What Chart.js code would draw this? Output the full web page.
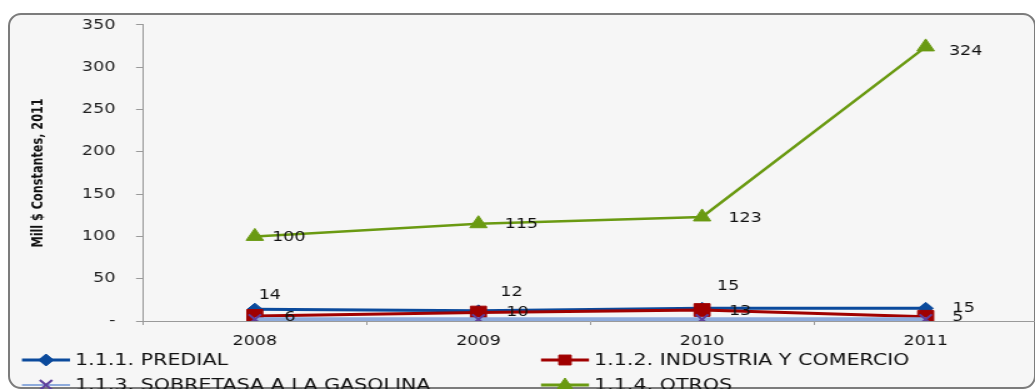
<!DOCTYPE html>
<html>
<head>
<meta charset="utf-8">
<script src="https://cdn.jsdelivr.net/npm/chart.js@4/dist/chart.umd.min.js"></script>
<style>
  html, body { margin: 0; padding: 0; background: #fff; overflow: hidden; }
  #panel {
    position: absolute; left: 8px; top: 13px; width: 1024px; height: 372px;
    border: 2px solid #7c7c7c; border-radius: 13px; background: #f6f6f6;
  }
  /* the source picture is stretched sideways, so the canvas is too */
  #wrap {
    position: absolute; left: 0; top: 0; width: 840px; height: 400px;
    transform: scaleX(1.25); transform-origin: 0 0;
  }
</style>
</head>
<body>
<div id="panel"></div>
<div id="wrap"><canvas id="chart" width="840" height="400"></canvas></div>
<script>
const YEARS = ["2008", "2009", "2010", "2011"];

const PREDIAL = [14, 12, 15, 15];
const INDUSTRIA = [6, 10, 13, 5];
const SOBRETASA = [2, 2, 2, 2];
const OTROS = [100, 115, 123, 324];

const Y_TICKS = [0, 50, 100, 150, 200, 250, 300, 350];

const STRETCH = 1.25;

// label offsets (screen px, from the point to the text centre)
const LABEL_OFFSETS = {
  predial: [[15, -14], [33, -18], [26, -22], [38, 0]],
  industria: [[35, 1], [39, 0], [38, 1], [32, 1]],
  otros: [[34, 1], [43, 1], [43, 1], [40, 4]],
};

const TXT = "'DejaVu Sans', Verdana, sans-serif";

const datasets = [
  {
    label: "1.1.1. PREDIAL", key: "predial", data: PREDIAL, order: 2,
    borderColor: "#0b4a9c", backgroundColor: "#0b4a9c", borderWidth: 3,
    pointStyle: "rectRot", pointRadius: 6, pointBorderWidth: 1,
    legendCol: 0, legendRow: 0, legendLine: 3,
  },
  {
    label: "1.1.2. INDUSTRIA Y COMERCIO", key: "industria", data: INDUSTRIA, order: 1,
    borderColor: "#a00000", backgroundColor: "#a00000", borderWidth: 3,
    pointStyle: "rect", pointRadius: 9, pointBorderWidth: 1,
    legendCol: 1, legendRow: 0, legendLine: 3,
  },
  {
    label: "1.1.3. SOBRETASA A LA GASOLINA", key: "sobretasa", data: SOBRETASA, order: 0,
    borderColor: "#8eabdc", backgroundColor: "#8eabdc", borderWidth: 4,
    pointStyle: "crossRot", pointRadius: 7, pointBorderWidth: 2,
    pointBorderColor: "#5e3f9c", pointBackgroundColor: "#5e3f9c",
    legendCol: 0, legendRow: 1, legendLine: 2,
  },
  {
    label: "1.1.4. OTROS", key: "otros", data: OTROS, order: 3,
    borderColor: "#6a9a12", backgroundColor: "#6a9a12", borderWidth: 2.5,
    pointStyle: "triangle", pointRadius: 8, pointBorderWidth: 1,
    legendCol: 1, legendRow: 1, legendLine: 3,
  },
];

/* ── value labels ── */
const valueLabels = {
  id: "valueLabels",
  afterDatasetsDraw(chart) {
    const ctx = chart.ctx;
    ctx.save();
    ctx.font = "14px " + TXT;
    ctx.fillStyle = "#111";
    ctx.textAlign = "center";
    ctx.textBaseline = "middle";
    chart.data.datasets.forEach((ds, i) => {
      const offs = LABEL_OFFSETS[ds.key];
      if (!offs) return;
      chart.getDatasetMeta(i).data.forEach((pt, j) => {
        ctx.fillText(String(ds.data[j]), pt.x + offs[j][0] / STRETCH, pt.y + offs[j][1]);
      });
    });
    ctx.restore();
  },
};

/* ── two-column legend under the plot ── */
const gridLegend = {
  id: "gridLegend",
  afterDraw(chart) {
    const ctx = chart.ctx;
    const colX = [22 / STRETCH, 541 / STRETCH];
    const rowY = [360, 385];
    const lineLen = 48 / STRETCH;
    chart.data.datasets.forEach((ds) => {
      const x = colX[ds.legendCol], y = rowY[ds.legendRow];
      ctx.save();
      ctx.strokeStyle = ds.borderColor;
      ctx.lineWidth = ds.legendLine;
      ctx.beginPath();
      ctx.moveTo(x, y);
      ctx.lineTo(x + lineLen, y);
      ctx.stroke();
      ctx.fillStyle = ds.pointBackgroundColor || ds.backgroundColor;
      ctx.strokeStyle = ds.pointBorderColor || ds.borderColor;
      ctx.lineWidth = ds.pointBorderWidth;
      Chart.helpers.drawPoint(ctx, {
        pointStyle: ds.pointStyle, radius: Math.min(ds.pointRadius, 7), rotation: 0,
        borderWidth: ds.pointBorderWidth,
      }, x + lineLen / 2, y);
      ctx.font = "16.5px " + TXT;
      ctx.fillStyle = "#111";
      ctx.textAlign = "left";
      ctx.textBaseline = "middle";
      ctx.fillText(ds.label, x + lineLen + 4, y + 1);
      ctx.restore();
    });
  },
};

new Chart(document.getElementById("chart"), {
  type: "line",
  data: { labels: YEARS, datasets },
  options: {
    responsive: false,
    animation: false,
    devicePixelRatio: 1,
    layout: { padding: { left: 0, top: 22, right: 840 - 1043 / STRETCH, bottom: 39 } },
    elements: { line: { tension: 0 } },
    plugins: { legend: { display: false }, tooltip: { enabled: false } },
    scales: {
      x: {
        offset: true,
        grid: { offset: true, drawOnChartArea: false, drawTicks: true, tickLength: 4, color: "#9a9a9a" },
        border: { color: "#9a9a9a", width: 1 },
        ticks: { font: { family: TXT, size: 14 }, color: "#111", padding: 8 },
        afterFit(scale) { scale.height = 40; },
      },
      y: {
        min: 0, max: 350,
        afterBuildTicks(scale) { scale.ticks = Y_TICKS.map((v) => ({ value: v })); },
        grid: { drawOnChartArea: false, drawTicks: true, tickLength: 7 / STRETCH, color: "#9a9a9a" },
        border: { color: "#9a9a9a", width: 1 },
        ticks: {
          font: { family: TXT, size: 14 }, color: "#222", padding: 16.5,
          callback: (v) => (v === 0 ? "-" : v),
        },
        title: {
          display: true, text: "Mill $ Constantes, 2011", color: "#111",
          font: { family: "'Liberation Sans Narrow', 'DejaVu Sans Condensed', 'Arial Narrow', sans-serif", size: 12.5, weight: "bold" },
          padding: { top: 23, bottom: 0 },
        },
        afterFit(scale) { scale.width = 143 / STRETCH; },
      },
    },
  },
  plugins: [valueLabels, gridLegend],
});
</script>
</body>
</html>
